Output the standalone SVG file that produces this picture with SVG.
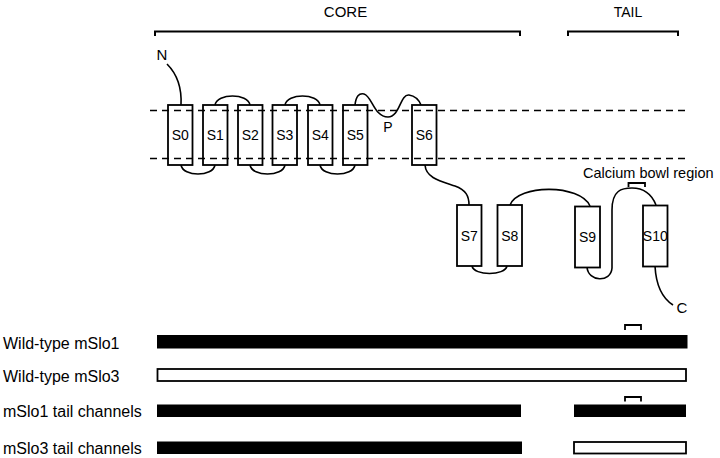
<svg xmlns="http://www.w3.org/2000/svg" width="720" height="458" viewBox="0 0 720 458">
<style>
  text { font-family: "Liberation Sans", Arial, sans-serif; fill: #000; }
  .lbl { font-size: 16px; }
  .seg { font-size: 14px; text-anchor: middle; }
  .hdr { font-size: 15px; text-anchor: middle; }
  .box { fill: none; stroke: #000; stroke-width: 1.8; }
  .ln { fill: none; stroke: #000; stroke-width: 1.6; }
  .br { fill: none; stroke: #000; stroke-width: 2; }
  .dash { fill: none; stroke: #000; stroke-width: 1.6; stroke-dasharray: 7 5; }
  .solid { fill: #000; }
  .open { fill: #fff; stroke: #000; stroke-width: 1.8; }
</style>
<rect width="720" height="458" fill="#fff"/>

<g id="headers">
  <text class="hdr" x="345.5" y="17">CORE</text>
  <path class="br" d="M155,36 V31.5 H520 V36"/>
  <text class="hdr" x="628" y="17" style="font-size:14px">TAIL</text>
  <path class="br" d="M568,36 V31.5 H678 V36"/>
</g>

<g id="membrane">
  <line class="dash" x1="150" y1="110.5" x2="690" y2="110.5"/>
  <line class="dash" x1="150" y1="158.5" x2="690" y2="158.5"/>
</g>

<g id="connectors">
  <path class="ln" d="M167,64 C176,73 182,86 181,105"/>
  <path class="ln" d="M181,165 C183,177 213,177 215,165"/>
  <path class="ln" d="M215,105 C217,93 248,93 250,105"/>
  <path class="ln" d="M250,165 C252,177 283,177 285,165"/>
  <path class="ln" d="M285,105 C287,93 318,93 320,105"/>
  <path class="ln" d="M320,165 C322,177 353,177 355,165"/>
  <path class="ln" d="M355,105 C356,96 359,93 364,94 C372,96 374,117 388,117 C400,117 400,94 409,95 C415,96 419,100 421,105"/>
  <path class="ln" d="M425,165 C426,178 440,181 455,186 C466,190 469,196 469,205"/>
  <path class="ln" d="M472,266 C474,276 505,276 507,266"/>
  <path class="ln" d="M510,205 C518,184 580,184 590,206"/>
  <path class="ln" d="M587,267 C588,282 611,283 612,268 L612,210 C612,190 622,188 632,188 C645,188 652,195 656,205"/>
  <path class="ln" d="M655,266 C656,285 662,298 673,305"/>
</g>

<g id="S0"><rect class="box" x="168" y="105" width="24.5" height="60"/><text class="seg" x="180.3" y="139.5">S0</text></g>
<g id="S1"><rect class="box" x="203" y="105" width="24.5" height="60"/><text class="seg" x="215.3" y="139.5">S1</text></g>
<g id="S2"><rect class="box" x="238" y="105" width="24.5" height="60"/><text class="seg" x="250.3" y="139.5">S2</text></g>
<g id="S3"><rect class="box" x="272.5" y="105" width="24.5" height="60"/><text class="seg" x="284.8" y="139.5">S3</text></g>
<g id="S4"><rect class="box" x="308" y="105" width="24.5" height="60"/><text class="seg" x="320.3" y="139.5">S4</text></g>
<g id="S5"><rect class="box" x="343" y="105" width="24.5" height="60"/><text class="seg" x="355.3" y="139.5">S5</text></g>
<g id="S6"><rect class="box" x="412" y="105" width="24.5" height="60"/><text class="seg" x="424.3" y="139.5">S6</text></g>
<g id="S7"><rect class="box" x="457" y="205" width="24.5" height="61"/><text class="seg" x="469.3" y="240.5">S7</text></g>
<g id="S8"><rect class="box" x="497.5" y="205" width="24.5" height="61"/><text class="seg" x="509.8" y="240.5">S8</text></g>
<g id="S9"><rect class="box" x="575" y="206.5" width="25" height="61"/><text class="seg" x="587.5" y="241.5">S9</text></g>
<g id="S10"><rect class="box" x="643" y="205.5" width="24.5" height="61"/><text class="seg" x="655.3" y="240.5">S10</text></g>

<g id="labels">
  <text x="156.5" y="60" style="font-size:15px">N</text>
  <text x="388" y="132" class="seg" style="font-size:14px">P</text>
  <text x="676.5" y="313" style="font-size:15px">C</text>
  <text x="583" y="178" style="font-size:14.5px">Calcium bowl region</text>
  <path class="br" style="stroke-width:1.8" d="M628.5,187 V183 H645 V187"/>
</g>

<g id="row-mSlo1">
  <text class="lbl" x="3" y="349">Wild-type mSlo1</text>
  <rect class="solid" x="157" y="335" width="530.5" height="13.5"/>
  <path class="br" style="stroke-width:1.8" d="M625,330 V325 H641 V330"/>
</g>
<g id="row-mSlo3">
  <text class="lbl" x="3" y="381.5">Wild-type mSlo3</text>
  <rect class="open" x="157.5" y="369" width="528.5" height="12"/>
</g>
<g id="row-mSlo1-tail">
  <text class="lbl" x="3" y="417">mSlo1 tail channels</text>
  <rect class="solid" x="157" y="404.5" width="364" height="12.5"/>
  <rect class="solid" x="574" y="404.5" width="112" height="12.5"/>
  <path class="br" style="stroke-width:1.8" d="M625,401.5 V397 H641 V401.5"/>
</g>
<g id="row-mSlo3-tail">
  <text class="lbl" x="3" y="453.5">mSlo3 tail channels</text>
  <rect class="solid" x="157" y="441.5" width="365" height="12.5"/>
  <rect class="open" x="574" y="442" width="112" height="11.5"/>
</g>
</svg>
